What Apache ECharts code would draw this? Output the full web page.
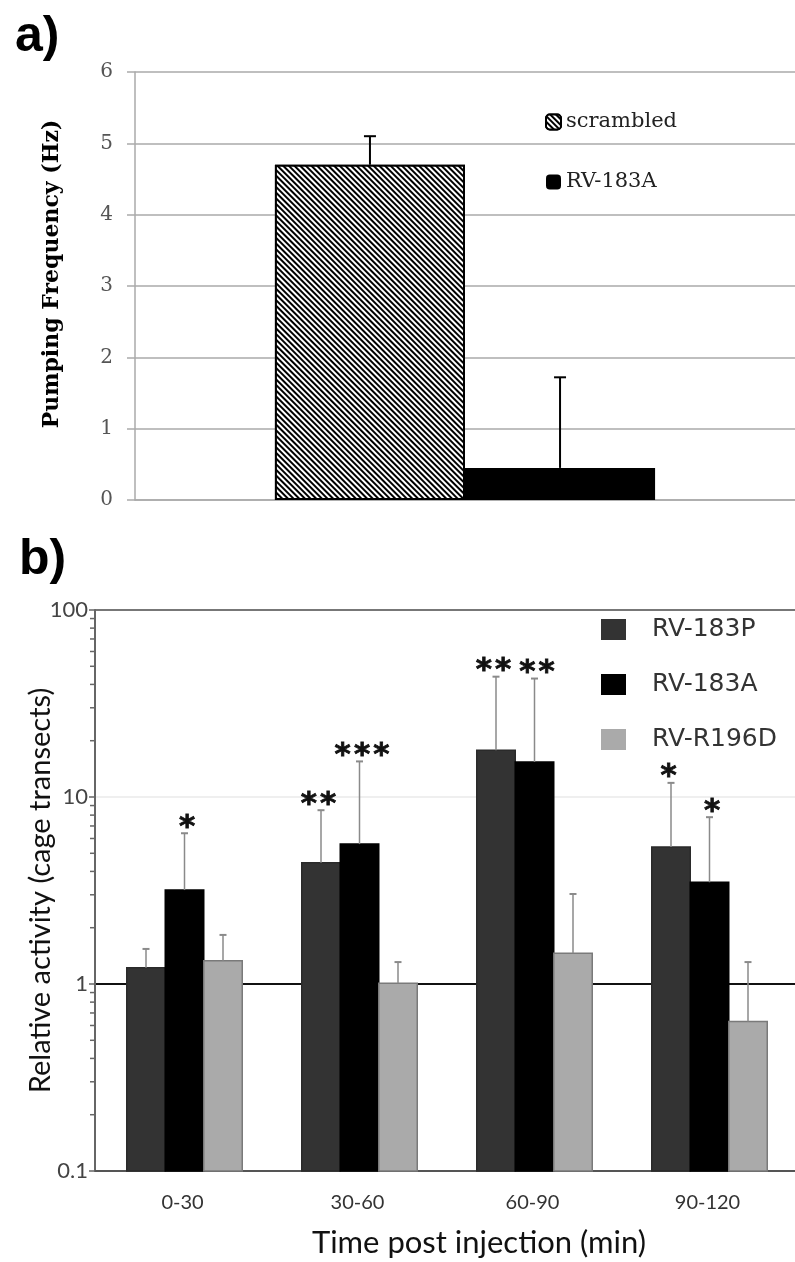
<!DOCTYPE html>
<html>
<head>
<meta charset="utf-8">
<script src="https://cdn.jsdelivr.net/npm/echarts@6/dist/echarts.min.js"></script>
<style>
  html, body { margin: 0; padding: 0; background: #fff; }
  #chart { width: 795px; height: 1262px; }
</style>
</head>
<body>
<div id="chart"></div>
<script>
// panel a) pumping frequency
const groupA = [''];
const meanScrambled = [4.7];
const errScrambled = [5.1];
const meanRV183A_a = [0.45];
const errRV183A_a = [1.72];

// panel b) relative activity, log scale
const timeCats = ['0-30', '30-60', '60-90', '90-120'];
const mean183P = [1.22, 4.45, 17.8, 5.4];
const err183P = [1.54, 8.5, 44, 11.9];
const sig183P = ['', '**', '**', '*'];
const mean183A = [3.18, 5.6, 15.4, 3.5];
const err183A = [6.4, 15.5, 43, 7.8];
const sig183A = ['*', '***', '**', '*'];
const meanR196D = [1.33, 1.01, 1.46, 0.63];
const errR196D = [1.83, 1.31, 3.03, 1.31];
const sigR196D = ['', '', '', ''];
const minorTickVals = [0.2, 0.3, 0.4, 0.5, 0.6, 0.7, 0.8, 0.9,
  2, 3, 4, 5, 6, 7, 8, 9, 20, 30, 40, 50, 60, 70, 80, 90];

const serif = 'DejaVu Serif';
const sans = 'Lato';
const barFracA = 0.288;   // bar width as part of the band, panel a
const barFracB = 0.22;    // bar width as part of the band, panel b

// error bars for panel a (k = 0 left bar, 1 right bar)
const errA = (k) => (params, api) => {
  const cat = api.value(0);
  const p = api.coord([cat, api.value(1)]);
  const pe = api.coord([cat, api.value(2)]);
  const band = api.size([1, 0])[0];
  const cx = p[0] + (k - 0.5) * band * barFracA;
  return {
    type: 'group',
    children: [
      { type: 'line', shape: { x1: cx, y1: p[1], x2: cx, y2: pe[1] }, style: { stroke: '#000', lineWidth: 2 } },
      { type: 'line', shape: { x1: cx - 6, y1: pe[1], x2: cx + 6, y2: pe[1] }, style: { stroke: '#000', lineWidth: 2 } }
    ]
  };
};

// bars + error bars + stars for panel b
const barsB = (k, fill, stroke, sigs) => (params, api) => {
  const cat = api.value(0);
  const p = api.coord([cat, api.value(1)]);
  const pe = api.coord([cat, api.value(2)]);
  const band = api.coord([1, 1])[0] - api.coord([0, 1])[0];
  const w = band * barFracB;
  const cx = p[0] + (k - 1) * w + 2;
  const base = params.coordSys.y + params.coordSys.height;
  const stars = sigs[params.dataIndex].split('').join('\u200a');
  return {
    type: 'group',
    children: [
      { type: 'rect', shape: { x: cx - w / 2, y: p[1], width: w, height: base - p[1] },
        style: { fill, stroke, lineWidth: 1.5 } },
      { type: 'line', shape: { x1: cx, y1: p[1], x2: cx, y2: pe[1] }, style: { stroke: '#8a8a8a', lineWidth: 1.5 } },
      { type: 'line', shape: { x1: cx - 3.5, y1: pe[1], x2: cx + 3.5, y2: pe[1] }, style: { stroke: '#8a8a8a', lineWidth: 2 } },
      { type: 'text', style: { text: stars, x: cx + (k - 0.5) * 5, y: pe[1] + 10, align: 'center',
        verticalAlign: 'bottom', font: 'bold 31px "DejaVu Sans"', fill: '#111',
        stroke: '#111', lineWidth: 0.8 } }
    ]
  };
};

const rows = (means, errs) => means.map((m, i) => [i, m, errs[i]]);

const chart = echarts.init(document.getElementById('chart'));
chart.setOption({
  backgroundColor: '#fff',
  animation: false,
  title: [
    { text: 'a)', left: 10, top: 7, textStyle: { fontSize: 50, fontWeight: 'bold', fontFamily: 'Liberation Sans', color: '#000' } },
    { text: 'b)', left: 14, top: 530, textStyle: { fontSize: 50, fontWeight: 'bold', fontFamily: 'Liberation Sans', color: '#000' } }
  ],
  legend: [
    {
      data: ['scrambled', 'RV-183A'],
      orient: 'vertical',
      left: 540,
      top: 104,
      itemWidth: 15,
      itemHeight: 15,
      itemGap: 34,
      textStyle: { fontFamily: serif, fontSize: 21, color: '#222', lineHeight: 26 },
      selectedMode: false
    },
    {
      data: ['RV-183P', 'RV-183A', 'RV-R196D'],
      orient: 'vertical',
      left: 596,
      top: 612,
      icon: 'rect',
      itemWidth: 25,
      itemHeight: 21,
      itemGap: 30,
      textStyle: { fontFamily: 'DejaVu Sans', fontSize: 25, color: '#333', padding: [0, 0, 0, 21], lineHeight: 25 },
      selectedMode: false
    }
  ],
  grid: [
    { left: 135, top: 72, width: 660, height: 428 },
    { left: 95, top: 610, width: 708, height: 561 }
  ],
  xAxis: [
    {
      gridIndex: 0,
      type: 'category',
      data: groupA,
      axisLine: { show: true, lineStyle: { color: '#aaa', width: 1.5 } },
      axisTick: { show: false },
      axisLabel: { show: false }
    },
    {
      gridIndex: 1,
      type: 'category',
      data: timeCats,
      axisLine: { show: true, lineStyle: { color: '#555', width: 2 } },
      axisTick: { show: false },
      axisLabel: { fontFamily: sans, fontSize: 20, color: '#333', margin: 22 },
      name: 'Time post injection (min)',
      nameLocation: 'middle',
      nameGap: 56,
      nameTextStyle: { fontFamily: sans, fontSize: 31, color: '#111', padding: [0, 0, 0, 68] }
    }
  ],
  yAxis: [
    {
      gridIndex: 0,
      type: 'value',
      min: 0,
      max: 6,
      interval: 1,
      axisLine: { show: true, lineStyle: { color: '#aaa', width: 1.5 } },
      axisTick: { show: true, length: 8, lineStyle: { color: '#aaa', width: 1.5 } },
      splitLine: { lineStyle: { color: '#aaa', width: 1.5 } },
      axisLabel: { fontFamily: serif, fontSize: 20, color: '#555', margin: 22 },
      name: 'Pumping Frequency (Hz)',
      nameLocation: 'middle',
      nameGap: 72,
      nameTextStyle: { fontFamily: serif, fontWeight: 'bold', fontSize: 22, color: '#000', padding: [0, 0, 0, 24] }
    },
    {
      gridIndex: 1,
      type: 'log',
      logBase: 10,
      min: 0.1,
      max: 100,
      axisLine: { show: true, lineStyle: { color: '#666', width: 2 } },
      axisTick: { show: true, length: 6, lineStyle: { color: '#666', width: 1.5 } },
      splitLine: { show: true, lineStyle: { color: ['#666', '#111', '#efefef', '#777'], width: 2 } },
      axisLabel: { fontFamily: sans, fontSize: 22, color: '#444', margin: 7 },
      name: 'Relative activity (cage transects)',
      nameLocation: 'middle',
      nameGap: 40,
      nameMoveOverlap: false,
      nameTextStyle: { fontFamily: sans, fontSize: 29, color: '#111' }
    }
  ],
  series: [
    {
      name: 'scrambled',
      type: 'bar',
      xAxisIndex: 0,
      yAxisIndex: 0,
      data: meanScrambled,
      barWidth: (barFracA * 100) + '%',
      barGap: '0%',
      itemStyle: {
        color: '#fff',
        borderColor: '#000',
        borderWidth: 2,
        decal: { symbol: 'rect', symbolSize: 1, dashArrayX: [[1, 0]], dashArrayY: [1.8, 1.6], rotation: Math.PI / 4, color: '#000', backgroundColor: '#fff' }
      }
    },
    {
      name: 'RV-183A',
      type: 'bar',
      xAxisIndex: 0,
      yAxisIndex: 0,
      data: meanRV183A_a,
      barWidth: (barFracA * 100) + '%',
      barGap: '0%',
      itemStyle: { color: '#000' }
    },
    {
      name: 'errScrambled',
      type: 'custom',
      xAxisIndex: 0,
      yAxisIndex: 0,
      data: rows(meanScrambled, errScrambled),
      encode: { x: 0, y: [1, 2] },
      renderItem: errA(0),
      z: 5
    },
    {
      name: 'errRV183A',
      type: 'custom',
      xAxisIndex: 0,
      yAxisIndex: 0,
      data: rows(meanRV183A_a, errRV183A_a),
      encode: { x: 0, y: [1, 2] },
      renderItem: errA(1),
      z: 5
    },
    {
      name: 'RV-183P',
      type: 'custom',
      xAxisIndex: 1,
      yAxisIndex: 1,
      data: rows(mean183P, err183P),
      encode: { x: 0, y: [1, 2] },
      itemStyle: { color: '#333' },
      renderItem: barsB(0, '#333', '#2a2a2a', sig183P)
    },
    {
      name: 'RV-183A',
      type: 'custom',
      xAxisIndex: 1,
      yAxisIndex: 1,
      data: rows(mean183A, err183A),
      encode: { x: 0, y: [1, 2] },
      itemStyle: { color: '#000' },
      renderItem: barsB(1, '#000', '#000', sig183A)
    },
    {
      name: 'RV-R196D',
      type: 'custom',
      xAxisIndex: 1,
      yAxisIndex: 1,
      data: rows(meanR196D, errR196D),
      encode: { x: 0, y: [1, 2] },
      itemStyle: { color: '#aaa' },
      renderItem: barsB(2, '#aaa', '#7a7a7a', sigR196D)
    },
    {
      name: 'minorTicks',
      type: 'custom',
      xAxisIndex: 1,
      yAxisIndex: 1,
      data: minorTickVals.map(v => [0, v]),
      encode: { x: 0, y: 1 },
      clip: false,
      silent: true,
      renderItem: (params, api) => {
        const p = api.coord([0, api.value(1)]);
        const x = params.coordSys.x;
        return { type: 'line', shape: { x1: x - 5, y1: p[1], x2: x, y2: p[1] }, style: { stroke: '#666', lineWidth: 1.5 } };
      }
    }
  ]
});
</script>
</body>
</html>
